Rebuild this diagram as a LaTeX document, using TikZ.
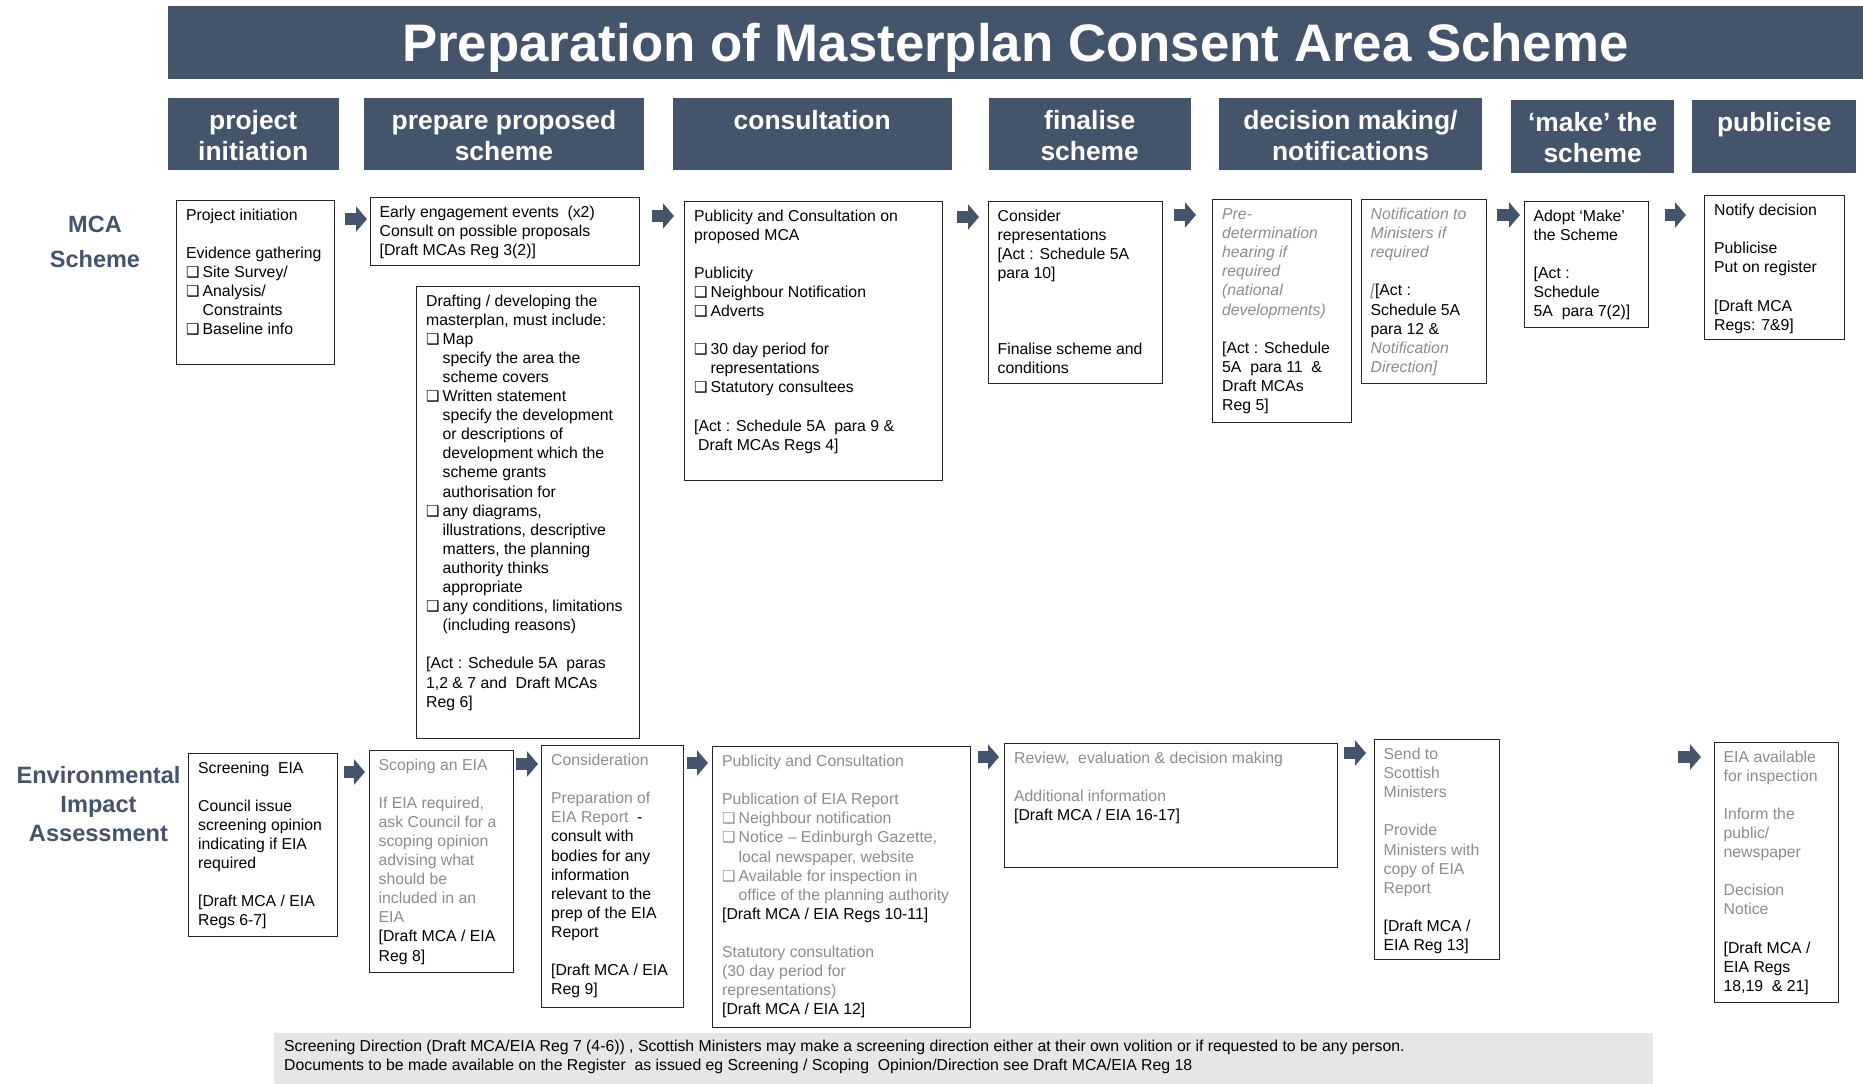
\documentclass[tikz,border=0pt]{standalone}
\usepackage{fontspec}
\setmainfont{Liberation Sans}
\newfontfamily\symfont{DejaVu Sans}
\usetikzlibrary{positioning,arrows.meta,calc}

\definecolor{slate}{RGB}{68,84,106}
\definecolor{greytxt}{RGB}{140,140,140}
\definecolor{footgrey}{RGB}{231,230,230}

\newcommand\boxfont{\fontsize{15.8}{19.1}\selectfont}
\newcommand\cb{\makebox[16.5pt][l]{\symfont\fontsize{15}{15}\selectfont ❑}}
\newcommand\ind{\hspace*{16.5pt}}
\newcommand\gap{\\[19.1pt]}
\newcommand\gr[1]{{\color{greytxt}#1}}
% box text: width, height, lines (top aligned)
\newcommand\boxtext[3]{\parbox[c][#2pt][t]{#1pt}{\leftskip=9.5pt\rightskip=0pt plus 1fil
  \parfillskip=0pt plus 1fil\parindent=0pt\hbadness=10000\vspace*{6.5pt}\strut#3}}
\newcommand\headtext[3]{\parbox[c][#2pt][t]{#1pt}{\centering\vspace*{9.8pt}\strut#3}}

\begin{document}
\begin{tikzpicture}[
    x=1pt, y=-1pt,
    titlebar/.style={fill=slate, text=white, inner sep=0pt, anchor=north west,
                     minimum width=1695.5pt, minimum height=72.5pt,
                     text height=37.8pt, text depth=0pt,
                     font=\bfseries\fontsize{52.8}{60}\selectfont},
    headbox/.style={fill=slate, text=white, inner sep=0pt, anchor=north west,
                    font=\bfseries\fontsize{26.4}{31}\selectfont},
    stagebox/.style={draw=black!85, line width=1.3pt, inner sep=0pt, anchor=north west,
                     font=\boxfont},
    rowlabel/.style={align=center, text=slate, font=\bfseries\fontsize{23.5}{34.5}\selectfont},
    footbox/.style={fill=footgrey, inner sep=0pt, anchor=north west,
                    font=\fontsize{15.8}{19}\selectfont},
    blockarr/.style={draw=slate, line width=12pt, -{Triangle[width=25pt,length=11pt]}},
  ]
    \useasboundingbox (0,0) rectangle (1863,1084);

    \node[titlebar] (title) at (167.5,6) {Preparation of Masterplan Consent Area Scheme};

    % Stage headers
    \node[headbox] (hpi) at (167.5,97.5) {\headtext{171}{72.5}{project\\initiation}};
    \node[headbox] (hpp) at (363.5,97.5) {\headtext{280.5}{72.5}{prepare proposed\\scheme}};
    \node[headbox] (hco) at (672.5,97.5) {\headtext{279}{72.5}{consultation}};
    \node[headbox] (hfi) at (988.5,97.5) {\headtext{202}{72.5}{finalise\\scheme}};
    \node[headbox] (hde) at (1219,97.5)  {\headtext{262.5}{72.5}{decision making/\\notifications}};
    \node[headbox] (hma) at (1511,100)   {\headtext{163}{72.5}{‘make’ the\\scheme}};
    \node[headbox] (hpu) at (1692,100)   {\headtext{164}{72.5}{publicise}};

    % Row labels
    \node[rowlabel] (mcalab) at (95,241.8) {MCA\\Scheme};
    \node[rowlabel, font=\bfseries\fontsize{23.6}{29}\selectfont] (eialab) at (98.5,804)
        {Environmental\\Impact\\Assessment};

    % MCA scheme row
    \node[stagebox] (pi) at (176,199.6) {\boxtext{158}{164}{Project initiation\gap
        Evidence gathering\\
        \cb Site Survey/\\
        \cb Analysis/\\
        \ind Constraints\\
        \cb Baseline info}};
    \node[stagebox] (ee) at (369.5,197) {\boxtext{269.5}{68}{Early engagement events\ \ (x2)\\
        Consult on possible proposals\\{}
        [Draft MCAs Reg 3(2)]}};
    \node[stagebox] (dr) at (416,285.5) {\boxtext{223}{452.5}{Drafting / developing the\\
        masterplan, must include:\\
        \cb Map\\
        \ind specify the area the\\
        \ind scheme covers\\
        \cb Written statement\\
        \ind specify the development\\
        \ind or descriptions of\\
        \ind development which the\\
        \ind scheme grants\\
        \ind authorisation for\\
        \cb any diagrams,\\
        \ind illustrations, descriptive\\
        \ind matters, the planning\\
        \ind authority thinks\\
        \ind appropriate\\
        \cb any conditions, limitations\\
        \ind (including reasons)\gap
        [Act : Schedule 5A\ \ paras\\
        1,2 \& 7 and\ \ Draft MCAs\\
        Reg 6]}};
    \node[stagebox] (pc) at (684,200.5) {\boxtext{258}{279.5}{Publicity and Consultation on\\
        proposed MCA\gap
        Publicity\\
        \cb Neighbour Notification\\
        \cb Adverts\gap
        \cb 30 day period for\\
        \ind representations\\
        \cb Statutory consultees\gap
        [Act : Schedule 5A\ \ para 9 \&\\
        \hspace*{4pt}Draft MCAs Regs 4]}};
    \node[stagebox] (cr) at (987.5,200.5) {\boxtext{174}{182}{Consider\\
        representations\\{}
        [Act : Schedule 5A\\
        para 10]\\[57.3pt]
        Finalise scheme and\\
        conditions}};
    \node[stagebox] (pd) at (1212,199) {\boxtext{139}{223}{\gr{\itshape Pre-\\
        determination\\ hearing if\\ required\\ (national\\ developments)}\gap
        [Act : Schedule\\
        5A\ \ para 11\ \ \&\\
        Draft MCAs\\
        Reg 5]}};
    \node[stagebox] (nm) at (1360.5,199) {\boxtext{125}{183.5}{\gr{\itshape Notification to\\
        Ministers if\\ required}\gap
        \gr{\itshape [}[Act :\\
        Schedule 5A\\
        para 12 \&\\
        \gr{\itshape Notification\\ Direction]}}};
    \node[stagebox] (ad) at (1523.5,200.5) {\boxtext{124.5}{126}{Adopt ‘Make’\\
        the Scheme\gap
        [Act :\\
        Schedule\\
        5A\ \ para 7(2)]}};
    \node[stagebox] (nd) at (1704,195) {\boxtext{139.5}{144}{Notify decision\gap
        Publicise\\
        Put on register\gap
        [Draft MCA\\
        Regs: 7\&9]}};

    % EIA row
    \node[stagebox] (sc) at (188,752.5) {\boxtext{148.5}{183}{Screening\ \ EIA\gap
        Council issue\\
        screening opinion\\
        indicating if EIA\\
        required\gap
        [Draft MCA / EIA\\
        Regs 6-7]}};
    \node[stagebox] (so) at (368.5,749.5) {\boxtext{144}{222.5}{\gr{Scoping an EIA\gap
        If EIA required,\\ ask Council for a\\ scoping opinion\\ advising what\\
        should be\\ included in an\\ EIA}\\{}
        [Draft MCA / EIA\\
        Reg 8]}};
    \node[stagebox] (co) at (541,745) {\boxtext{142}{262}{\gr{Consideration\gap
        Preparation of\\ EIA Report}\ \ -\\
        consult with\\
        bodies for any\\
        information\\
        relevant to the\\
        prep of the EIA\\
        Report\gap
        [Draft MCA / EIA\\
        Reg 9]}};
    \node[stagebox] (pu) at (712,746) {\boxtext{257.5}{280.5}{\gr{Publicity and Consultation\gap
        Publication of EIA Report\\
        \cb Neighbour notification\\
        \cb Notice – Edinburgh Gazette,\\
        \ind local newspaper, website\\
        \cb Available for inspection in\\
        \ind office of the planning authority}\\{}
        [Draft MCA / EIA Regs 10-11]\gap
        \gr{Statutory consultation\\
        (30 day period for\\
        representations)}\\{}
        [Draft MCA / EIA 12]}};
    \node[stagebox] (re) at (1004,742.5) {\boxtext{332.5}{124.5}{\gr{Review,\ \ evaluation
        \& decision making\gap Additional information}\\{}
        [Draft MCA / EIA 16-17]}};
    \node[stagebox] (ss) at (1373.5,739) {\boxtext{125}{220}{\gr{Send to\\ Scottish\\
        Ministers\gap Provide\\ Ministers with\\ copy of EIA\\ Report}\gap
        [Draft MCA /\\
        EIA Reg 13]}};
    \node[stagebox] (ea) at (1713.5,741.5) {\boxtext{124.5}{260}{\gr{EIA available\\
        for inspection\gap Inform the\\ public/\\ newspaper\gap Decision\\ Notice}\gap
        [Draft MCA /\\
        EIA Regs\\
        18,19\ \ \& 21]}};

    % Footer note
    \node[footbox] (foot) at (274,1033) {\parbox[c][51pt][t]{1378.6pt}{\leftskip=10pt
        \parindent=0pt\vspace*{5pt}\strut
        Screening Direction (Draft MCA/EIA Reg 7 (4-6)) , Scottish Ministers may make a screening
        direction either at their own volition or if requested to be any person.\\
        Documents to be made available on the Register\ \ as issued eg Screening / Scoping\ \
        Opinion/Direction see Draft MCA/EIA Reg 18}};

    % Block arrows between stages
    \coordinate (a1) at ($(pi.north east)+(10,19.5)$);
    \coordinate (a2) at ($(ee.north east)+(12,19)$);
    \coordinate (a3) at ($(pc.north east)+(14,16.5)$);
    \coordinate (a4) at ($(cr.north east)+(11.5,14.5)$);
    \coordinate (a5) at ($(nm.north east)+(10.5,16)$);
    \coordinate (a6) at ($(ad.north east)+(16,14.5)$);
    \draw[blockarr, shorten >=2.5pt] (a1) -- (a1 -| ee.west);
    \draw[blockarr, shorten >=10pt]  (a2) -- (a2 -| pc.west);
    \draw[blockarr, shorten >=8.5pt] (a3) -- (a3 -| cr.west);
    \draw[blockarr, shorten >=16pt]  (a4) -- (a4 -| pd.west);
    \draw[blockarr, shorten >=3.5pt] (a5) -- (a5 -| ad.west);
    \draw[blockarr, shorten >=18pt]  (a6) -- (a6 -| nd.west);

    \coordinate (b1) at ($(sc.north east)+(6,19.5)$);
    \coordinate (b2) at ($(so.north east)+(2,14.5)$);
    \coordinate (b3) at ($(co.north east)+(2.5,18)$);
    \coordinate (b4) at ($(pu.north east)+(7,11)$);
    \coordinate (b5) at ($(re.north east)+(6,10.5)$);
    \coordinate (b6) at ($(ea.north west)+(-36,15.5)$);
    \draw[blockarr, shorten >=3.5pt] (b1) -- (b1 -| so.west);
    \draw[blockarr, shorten >=3pt]   (b2) -- (b2 -| co.west);
    \draw[blockarr, shorten >=4pt]   (b3) -- (b3 -| pu.west);
    \draw[blockarr, shorten >=5pt]   (b4) -- (b4 -| re.west);
    \draw[blockarr, shorten >=7.5pt] (b5) -- (b5 -| ss.west);
    \draw[blockarr, shorten >=12.5pt] (b6) -- (b6 -| ea.west);
\end{tikzpicture}
\end{document}
